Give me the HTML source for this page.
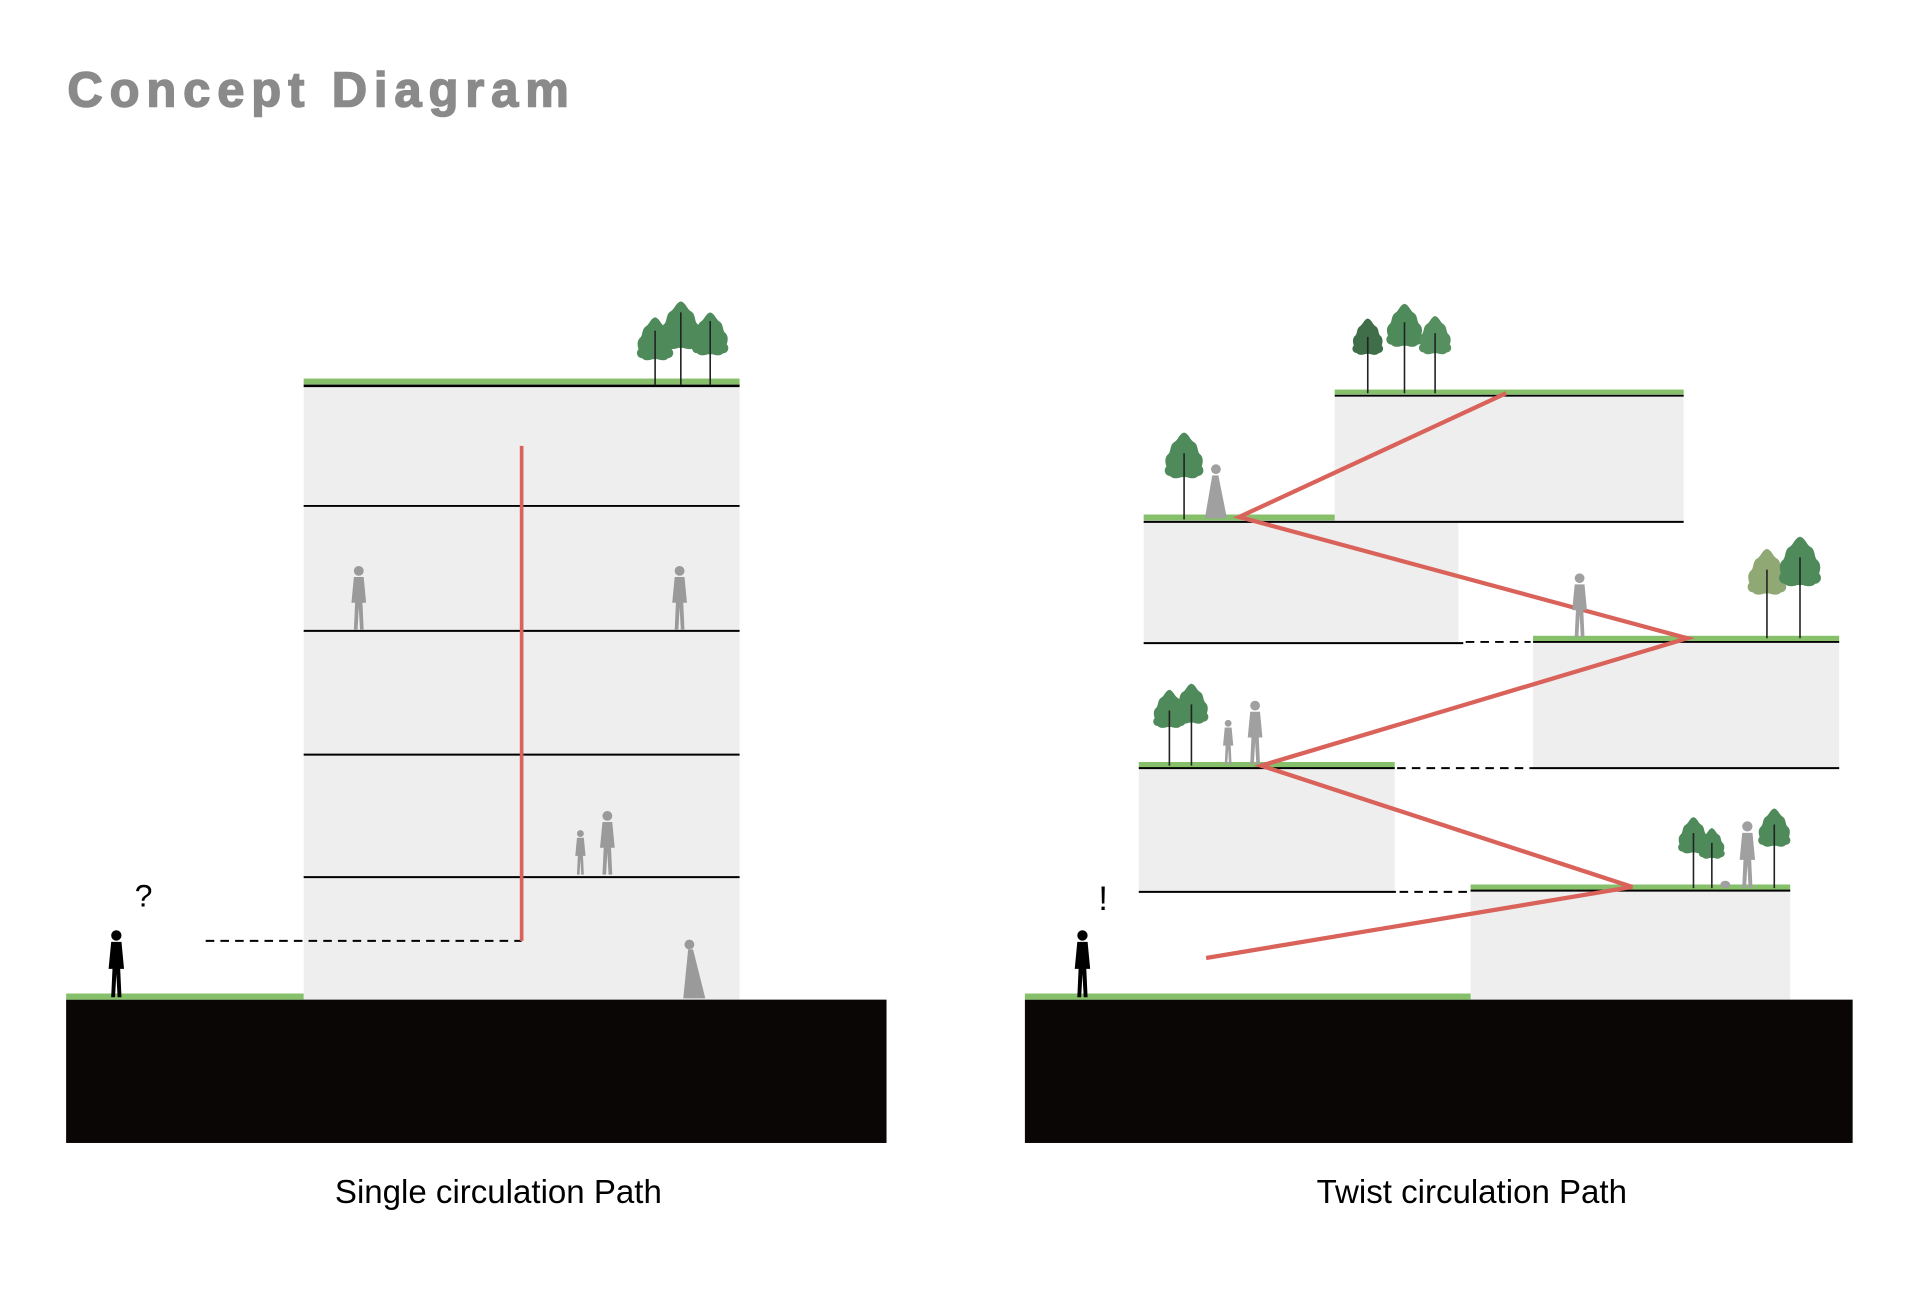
<!DOCTYPE html>
<html><head><meta charset="utf-8"><style>
html,body{margin:0;padding:0;background:#fff;}
svg{display:block;}
</style></head><body>
<svg width="1920" height="1301" viewBox="0 0 1568 1062" preserveAspectRatio="none" xmlns="http://www.w3.org/2000/svg">
<defs>
<g id="tree">
<path d="M0,-100 C8,-98 10,-88 16,-84 C24,-80 22,-70 26,-64 C34,-58 32,-48 30,-42 C36,-36 32,-26 24,-26 C18,-20 10,-22 4,-24 L-4,-24 C-10,-22 -18,-20 -24,-26 C-32,-26 -36,-36 -30,-42 C-32,-48 -34,-58 -26,-64 C-22,-70 -24,-80 -16,-84 C-10,-88 -8,-98 0,-100Z"/>
</g>
<g id="person">
<circle cx="0" cy="-48" r="4"/>
<path d="M-4,-43 L4,-43 L6,-22 L3,-22 L4,0 L1,0 L0,-18 L-1,0 L-4,0 L-3,-22 L-6,-22Z"/>
</g>
</defs>

<text x="55" y="87" font-family="Liberation Sans, sans-serif" font-weight="bold" font-size="40" letter-spacing="5.6" fill="#8a8a8a" stroke="#8a8a8a" stroke-width="1.2">Concept Diagram</text>

<!-- LEFT -->
<rect x="248" y="312" width="356" height="504" fill="#eeeeee"/>
<rect x="54" y="816" width="670" height="117" fill="#0a0606"/>
<rect x="54" y="811" width="194" height="5" fill="#86c06a"/>
<rect x="248" y="309" width="356" height="5" fill="#86c06a"/>
<line x1="248" y1="315" x2="604" y2="315" stroke="#000" stroke-width="2"/>
<g stroke="#000" stroke-width="1.6">
<line x1="248" y1="413" x2="604" y2="413"/>
<line x1="248" y1="515" x2="604" y2="515"/>
<line x1="248" y1="616" x2="604" y2="616"/>
<line x1="248" y1="716" x2="604" y2="716"/>
</g>
<line x1="168" y1="768" x2="426" y2="768" stroke="#000" stroke-width="1.6" stroke-dasharray="7,5"/>
<line x1="426" y1="364" x2="426" y2="768" stroke="#d9635a" stroke-width="3"/>
<g fill="#4f8a5b">
<use href="#tree" transform="translate(535,304) scale(0.45)"/>
<use href="#tree" transform="translate(556,296) scale(0.5)"/>
<use href="#tree" transform="translate(580,300) scale(0.45)"/>
</g>
<g stroke="#222" stroke-width="1.3">
<line x1="535" y1="270" x2="535" y2="314"/><line x1="556" y1="255" x2="556" y2="314"/><line x1="580" y1="262" x2="580" y2="314"/>
</g>
<g fill="#9a9a9a">
<use href="#person" transform="translate(293,514)"/>
<use href="#person" transform="translate(555,514)"/>
<use href="#person" transform="translate(474,714) scale(0.7)"/>
<use href="#person" transform="translate(496,714) scale(1)"/>
<path d="M558,815 L562,775 L566,775 L576,815Z"/><circle cx="563" cy="771" r="4"/>
</g>
<g fill="#000"><use href="#person" transform="translate(95,814) scale(1.05)"/></g>
<text x="110" y="740" font-family="Liberation Sans, sans-serif" font-size="26" fill="#000">?</text>
<text x="407" y="982" text-anchor="middle" font-family="Liberation Sans, sans-serif" font-size="27" fill="#000">Single circulation Path</text>

<!-- RIGHT -->
<rect x="1090" y="322" width="285" height="104" fill="#eeeeee"/>
<rect x="934" y="426" width="257" height="99" fill="#eeeeee"/>
<rect x="1252" y="523" width="250" height="104" fill="#eeeeee"/>
<rect x="930" y="626" width="209" height="102" fill="#eeeeee"/>
<rect x="1201" y="726" width="261" height="90" fill="#eeeeee"/>
<rect x="837" y="816" width="676" height="117" fill="#0a0606"/>
<g fill="#86c06a">
<rect x="837" y="811" width="364" height="5"/>
<rect x="1090" y="318" width="285" height="4"/>
<rect x="934" y="420" width="156" height="5"/>
<rect x="1252" y="519" width="250" height="5"/>
<rect x="930" y="622" width="209" height="5"/>
<rect x="1201" y="722" width="261" height="5"/>
</g>
<g stroke="#000" stroke-width="1.6">
<line x1="1090" y1="323" x2="1375" y2="323"/>
<line x1="934" y1="426" x2="1375" y2="426"/>
<line x1="934" y1="525" x2="1195" y2="525"/>
<line x1="1252" y1="524" x2="1502" y2="524"/>
<line x1="1250" y1="627" x2="1502" y2="627"/>
<line x1="930" y1="627" x2="1139" y2="627"/>
<line x1="930" y1="728" x2="1140" y2="728"/>
<line x1="1201" y1="727" x2="1462" y2="727"/>
</g>
<g stroke="#000" stroke-width="1.6" stroke-dasharray="7,5">
<line x1="1197" y1="524" x2="1250" y2="524"/>
<line x1="1141" y1="627" x2="1250" y2="627"/>
<line x1="1143" y1="728" x2="1200" y2="728"/>
</g>
<polyline points="985,782 1333,724 1030,625 1378,521 1012,422 1230,321" fill="none" stroke="#d9635a" stroke-width="3.5"/>
<g>
<use href="#tree" fill="#3f6e48" transform="translate(1117,298) scale(0.38)"/>
<use href="#tree" fill="#4f8a5b" transform="translate(1147,293) scale(0.45)"/>
<use href="#tree" fill="#568f60" transform="translate(1172,298) scale(0.4)"/>
<use href="#tree" fill="#4f8a5b" transform="translate(967,401) scale(0.48)"/>
<use href="#tree" fill="#8fa874" transform="translate(1443,496) scale(0.48)"/>
<use href="#tree" fill="#4f8a5b" transform="translate(1470,490) scale(0.52)"/>
<use href="#tree" fill="#4f8a5b" transform="translate(955,603) scale(0.4)"/>
<use href="#tree" fill="#4f8a5b" transform="translate(973,600) scale(0.42)"/>
<use href="#tree" fill="#4f8a5b" transform="translate(1383,705) scale(0.38)"/>
<use href="#tree" fill="#4f8a5b" transform="translate(1398,708) scale(0.32)"/>
<use href="#tree" fill="#4f8a5b" transform="translate(1449,700) scale(0.4)"/>
</g>
<g stroke="#222" stroke-width="1.3">
<line x1="1117" y1="275" x2="1117" y2="321"/><line x1="1147" y1="263" x2="1147" y2="321"/><line x1="1172" y1="272" x2="1172" y2="321"/>
<line x1="967" y1="370" x2="967" y2="424"/>
<line x1="1443" y1="465" x2="1443" y2="521"/><line x1="1470" y1="455" x2="1470" y2="521"/>
<line x1="955" y1="580" x2="955" y2="625"/><line x1="973" y1="575" x2="973" y2="625"/>
<line x1="1383" y1="680" x2="1383" y2="725"/><line x1="1398" y1="688" x2="1398" y2="725"/><line x1="1449" y1="673" x2="1449" y2="725"/>
</g>
<g fill="#a0a0a0">
<path d="M984,423 L990,388 L995,388 L1002,423Z"/><circle cx="993" cy="383" r="4"/>
<use href="#person" transform="translate(1290,520)"/>
<use href="#person" transform="translate(1003,624) scale(0.7)"/>
<use href="#person" transform="translate(1025,624)"/>
<use href="#person" transform="translate(1427,725) scale(1.05)"/>
<ellipse cx="1409" cy="722" rx="4" ry="3"/>
</g>
<g fill="#000"><use href="#person" transform="translate(884,814) scale(1.05)"/></g>
<text x="897" y="743" font-family="Liberation Sans, sans-serif" font-size="28" fill="#000">!</text>
<text x="1202" y="982" text-anchor="middle" font-family="Liberation Sans, sans-serif" font-size="27" fill="#000">Twist circulation Path</text>
</svg>
</body></html>
